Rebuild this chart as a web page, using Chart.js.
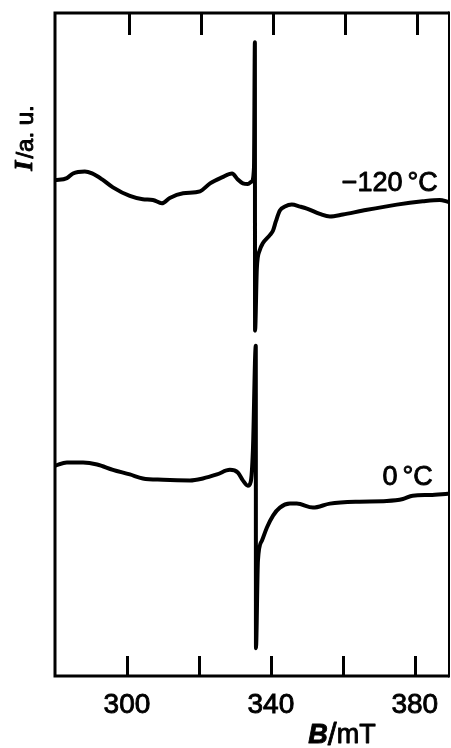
<!DOCTYPE html>
<html>
<head>
<meta charset="utf-8">
<script src="https://cdn.jsdelivr.net/npm/chart.js@4/dist/chart.umd.min.js"></script>
<style>
  html, body { margin: 0; padding: 0; background: #fff; }
  #wrap { width: 451px; height: 748px; }
</style>
</head>
<body>
<div id="wrap"><canvas id="epr" width="451" height="748"></canvas></div>
<script>
// EPR spectra recorded at two temperatures; field B in mT, signal in arbitrary units
const fieldCold = [280.0, 283.3, 285.0, 288.3, 290.3, 293.1, 296.1, 300.8, 304.4, 307.2, 309.7, 311.9,
  315.6, 320.3, 323.1, 326.4, 329.2, 330.8, 332.2, 333.6, 334.7, 335.3, 335.55, 335.6, 336.1, 336.9,
  337.8, 339.7, 340.6, 341.4, 342.5, 343.9, 345.8, 348.1, 350.0, 353.6, 356.4, 360.0, 365.6, 375.0,
  382.2, 386.9, 389.4];
const signalCold = [74.8, 75.1, 75.8, 76.1, 75.8, 74.9, 73.7, 72.4, 71.9, 71.8, 71.3, 72.1,
  72.8, 73.1, 74.3, 75.2, 75.8, 74.9, 74.3, 74.2, 74.6, 76.7, 95.6, 52.1, 61.5, 64.2,
  65.3, 66.5, 67.2, 68.6, 70.2, 70.8, 71.1, 70.8, 70.5, 69.7, 69.3, 69.6, 70.2, 71.1,
  71.6, 71.8, 71.5];

const fieldRoom = [280.0, 283.3, 287.8, 291.7, 296.1, 300.8, 304.4, 310.0, 317.5, 321.1, 325.0, 328.6,
  330.8, 332.2, 333.6, 334.4, 335.0, 335.8, 335.85, 336.4, 337.5, 338.9, 340.6, 342.5, 345.3, 347.2,
  351.7, 356.4, 363.9, 372.2, 376.7, 379.4, 384.2, 389.2];
const signalRoom = [31.7, 32.2, 32.2, 31.9, 31.1, 30.4, 29.8, 29.6, 29.5, 29.8, 30.4, 31.1,
  30.7, 29.5, 28.7, 29.3, 34.0, 49.8, 4.2, 17.4, 20.4, 22.4, 24.2, 25.4, 26.0, 26.0,
  25.4, 26.0, 26.3, 26.4, 26.7, 27.2, 27.3, 27.5];

const seriesNames = ['\u2212120 \u00B0C', '0 \u00B0C'];
const tickValues = [300, 320, 340, 360, 380];
const tickLabels = ['300', '', '340', '', '380'];

// where each temperature tag sits, in data units (right edge, vertical centre)
const tagField = [386.4, 385.0];
const tagSignal = [74.3, 29.9];

const toPoints = (xs, ys) => xs.map((b, i) => ({ x: b, y: ys[i] }));

const FONT = '"Liberation Sans", Arial, sans-serif';

// fill and lightly stroke text so it carries the same weight as the tick labels
function heavyText(ctx, t, x, y) {
  ctx.fillText(t, x, y);
  ctx.strokeText(t, x, y);
}

const framePlugin = {
  id: 'frame',
  afterDraw(chart) {
    const { ctx, chartArea: a, scales } = chart;
    const sx = scales.x, sy = scales.y;
    ctx.save();
    ctx.strokeStyle = '#000';
    ctx.fillStyle = '#000';
    ctx.lineWidth = 3;
    ctx.lineCap = 'butt';
    ctx.beginPath();
    ctx.moveTo(a.right, a.top);
    ctx.lineTo(a.left, a.top);
    ctx.lineTo(a.left, a.bottom);
    ctx.lineTo(a.right, a.bottom);
    ctx.stroke();
    ctx.lineWidth = 2;
    ctx.beginPath();
    ctx.moveTo(a.right, a.top - 1.5);
    ctx.lineTo(a.right, a.bottom + 1.5);
    ctx.stroke();

    // inward ticks on the bottom and top edges
    ctx.lineWidth = 3;
    tickValues.forEach(v => {
      const px = Math.round(sx.getPixelForValue(v)) + 0.5;
      ctx.beginPath();
      ctx.moveTo(px, a.bottom);
      ctx.lineTo(px, a.bottom - 20);
      ctx.moveTo(px + 2, a.top);
      ctx.lineTo(px + 2, a.top + 22);
      ctx.stroke();
    });

    ctx.lineWidth = 0.9;
    ctx.lineJoin = 'round';

    // temperature tags: number, then a small gap before the unit
    ctx.font = '27px ' + FONT;
    ctx.textAlign = 'right';
    ctx.textBaseline = 'middle';
    seriesNames.forEach((name, i) => {
      const [num, unit] = name.split(' ');
      const xr = sx.getPixelForValue(tagField[i]);
      const y = sy.getPixelForValue(tagSignal[i]);
      const wu = ctx.measureText(unit).width;
      heavyText(ctx, unit, xr, y);
      heavyText(ctx, num, xr - wu - 5, y);
    });

    // vertical axis title: I/a. u.
    ctx.save();
    ctx.translate(25, 138);
    ctx.rotate(-Math.PI / 2);
    ctx.textAlign = 'left';
    ctx.textBaseline = 'middle';
    const fI = 'italic bold 26px "Liberation Serif", "DejaVu Serif", serif';
    const fR = '24px ' + FONT;
    ctx.font = fI; const wI = ctx.measureText('I').width;
    ctx.font = fR; const wR = ctx.measureText('/a. u.').width;
    const x0 = -(wI + wR + 2) / 2;
    ctx.font = fI; heavyText(ctx, 'I', x0, 0);
    ctx.font = fR; heavyText(ctx, '/a. u.', x0 + wI + 2, 1);
    ctx.restore();

    // horizontal axis title: B/mT
    ctx.textAlign = 'left';
    ctx.textBaseline = 'alphabetic';
    const parts = [
      { t: 'B', f: 'italic bold 27px ' + FONT, dy: 0 },
      { t: '/', f: '32px ' + FONT, dy: 2 },
      { t: 'mT', f: '27px ' + FONT, dy: 0 }
    ];
    let total = 0;
    parts.forEach(p => { ctx.font = p.f; p.w = ctx.measureText(p.t).width; total += p.w; });
    let cx = 342 - total / 2;
    parts.forEach(p => { ctx.font = p.f; heavyText(ctx, p.t, cx, 743 + p.dy); cx += p.w; });
    ctx.restore();
  }
};

const lineStyle = {
  borderColor: '#000',
  borderWidth: 4,
  pointRadius: 0,
  fill: false,
  cubicInterpolationMode: 'monotone',
  borderJoinStyle: 'round',
  borderCapStyle: 'round'
};

new Chart(document.getElementById('epr'), {
  type: 'line',
  data: {
    datasets: [
      Object.assign({ label: seriesNames[0], data: toPoints(fieldCold, signalCold) }, lineStyle),
      Object.assign({ label: seriesNames[1], data: toPoints(fieldRoom, signalRoom) }, lineStyle)
    ]
  },
  options: {
    responsive: false,
    animation: false,
    devicePixelRatio: 1,
    layout: { padding: { left: 55, top: 13, right: 2, bottom: 14.4 } },
    plugins: { legend: { display: false }, tooltip: { enabled: false } },
    scales: {
      x: {
        type: 'linear',
        min: 280,
        max: 389.5,
        grid: { display: false, drawTicks: false },
        border: { display: false },
        afterBuildTicks: scale => { scale.ticks = tickValues.map(v => ({ value: v })); },
        ticks: {
          padding: 12,
          color: '#000',
          textStrokeColor: '#000',
          textStrokeWidth: 0.9,
          maxRotation: 0,
          autoSkip: false,
          font: { family: FONT, size: 28 },
          callback: (value) => tickLabels[tickValues.indexOf(value)] ?? ''
        }
      },
      y: {
        display: false,
        min: 0,
        max: 100
      }
    }
  },
  plugins: [framePlugin]
});
</script>
</body>
</html>
